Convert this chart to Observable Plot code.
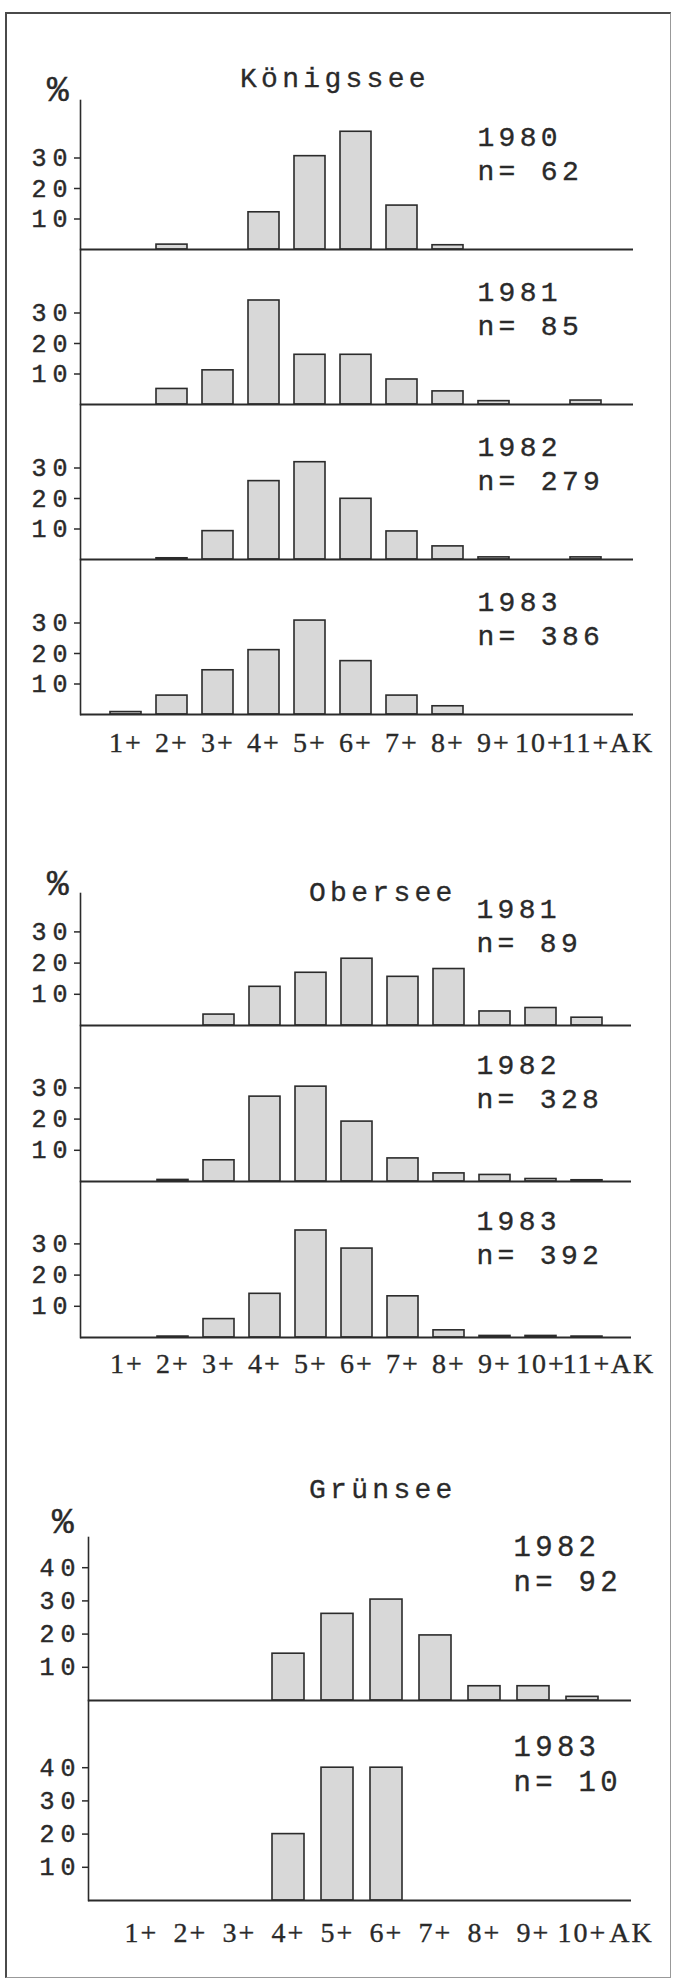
<!DOCTYPE html>
<html>
<head>
<meta charset="utf-8">
<script src="https://cdn.jsdelivr.net/npm/d3@7"></script>
<script src="https://cdn.jsdelivr.net/npm/@observablehq/plot@0.6"></script>
<style>
  body { margin: 0; background: #fff; }
  #page { position: relative; width: 676px; height: 1981px; background: #fff; overflow: hidden; }
  .frame { position: absolute; left: 5px; top: 12px; width: 666px; height: 1966px; box-sizing: border-box;
           border-left: 2px solid #4a4a4a; border-top: 2px solid #4a4a4a; border-right: 1px solid #999; border-bottom: 1px solid #999; }
  .title { position: absolute; font-family: "Liberation Mono", monospace; font-size: 28px; letter-spacing: 4.3px;
           color: #2a2a2a; white-space: pre; line-height: 1; -webkit-text-stroke: 0.3px #2a2a2a; }
  .pct { position: absolute; font-family: "Liberation Mono", monospace; font-size: 36px; color: #2a2a2a; line-height: 1;
         -webkit-text-stroke: 0.4px #2a2a2a; }
  .panel { position: absolute; left: 0; }
  .panel svg { overflow: visible; background: transparent; }
  g[aria-label="y-axis tick label"] text { letter-spacing: 6px; stroke: #2a2a2a; stroke-width: 0.45px; }
  g[aria-label="x-axis tick label"] text { letter-spacing: 2px; stroke: #2a2a2a; stroke-width: 0.35px; }
  g[aria-label="text"] text { letter-spacing: 4.3px; stroke: #2a2a2a; stroke-width: 0.35px; }
</style>
</head>
<body>
<div id="page"><div class="frame"></div></div>
<script>
// ---------- data ----------
const agesLong = ["1+", "2+", "3+", "4+", "5+", "6+", "7+", "8+", "9+", "10+", "11+", "AK"];
const agesShort = ["1+", "2+", "3+", "4+", "5+", "6+", "7+", "8+", "9+", "10+", "AK"];

const koenigsseeYears = [1980, 1981, 1982, 1983];
const koenigsseeN = [62, 85, 279, 386];
const koenigssee1980 = [0, 1.6, 0, 12.2, 30.6, 38.6, 14.4, 1.4, 0, 0, 0, 0];
const koenigssee1981 = [0, 5.1, 11.2, 34.1, 16.3, 16.3, 8.2, 4.3, 1.1, 0, 1.3, 0];
const koenigssee1982 = [0, 0.4, 9.3, 25.7, 31.9, 19.9, 9.2, 4.3, 0.7, 0, 0.7, 0];
const koenigssee1983 = [0.8, 6.2, 14.5, 21.1, 30.8, 17.5, 6.2, 2.7, 0, 0, 0, 0];

const oberseeYears = [1981, 1982, 1983];
const oberseeN = [89, 328, 392];
const obersee1981 = [0, 0, 3.5, 12.4, 16.9, 21.4, 15.6, 18.1, 4.5, 5.6, 2.5, 0];
const obersee1982 = [0, 0.5, 6.8, 27.2, 30.4, 19.2, 7.4, 2.6, 2.1, 0.8, 0.4, 0];
const obersee1983 = [0, 0.3, 5.9, 14.0, 34.3, 28.5, 13.2, 2.3, 0.5, 0.5, 0.3, 0];

const gruenseeYears = [1982, 1983];
const gruenseeN = [92, 10];
const gruensee1982 = [0, 0, 0, 14.1, 26.1, 30.4, 19.6, 4.3, 4.3, 1.1, 0];
const gruensee1983 = [0, 0, 0, 20, 40, 40, 0, 0, 0, 0, 0];

// ---------- layout ----------
const page = document.getElementById("page");
const INK = "#2b2b2b";
const TXT = "#2a2a2a";

function addText(cls, txt, left, top) {
  const d = document.createElement("div");
  d.className = cls; d.textContent = txt;
  d.style.left = left + "px"; d.style.top = top + "px";
  page.appendChild(d);
}

function panel(cfg) {
  const {ages, values, year, n, baseline, h, ppp, axisLeft, lineEnd, xRange, padIn, ticks, bottom, labelPad,
         yearDx, yearDy, yearSize, yearLH} = cfg;
  const data = ages.map((a, i) => ({age: a, v: values[i]})).filter(d => d.v > 0);
  const mb = bottom ? 56 : 2;
  const marks = [
    Plot.barY(data, {x: "age", y: "v", fill: "#d8d8d8", stroke: INK, strokeWidth: 1.6}),
    Plot.ruleY([0], {stroke: INK, strokeWidth: 2}),
    Plot.frame({anchor: "left", stroke: INK, strokeWidth: 1.6}),
    Plot.axisY({ticks, tickSize: 6, tickPadding: 1, label: null, stroke: INK, strokeWidth: 1.5,
                fontSize: 25, fontFamily: "Liberation Mono", fill: TXT}),
    Plot.text([{year, n}], {frameAnchor: "bottom-left", text: d => `${d.year}\nn= ${d.n}`,
               dx: yearDx, dy: yearDy, lineAnchor: "bottom", lineHeight: yearLH, textAnchor: "start",
               fontSize: yearSize, fontFamily: "Liberation Mono", fill: TXT})
  ];
  if (bottom) marks.push(Plot.axisX({tickSize: 0, tickPadding: labelPad, label: null,
                                      fontSize: 28, fontFamily: "Liberation Serif", fill: TXT}));
  const svg = Plot.plot({
    width: 676, height: h + mb,
    marginTop: 0, marginBottom: mb, marginLeft: axisLeft, marginRight: 676 - lineEnd,
    style: {background: "transparent", overflow: "visible", color: TXT},
    x: {domain: ages, range: xRange, paddingInner: padIn, paddingOuter: padIn / 2, align: 0.5, axis: bottom ? undefined : null},
    y: {domain: [0, h / ppp], axis: null},
    marks
  });
  const wrap = document.createElement("div");
  wrap.className = "panel";
  wrap.style.top = (baseline - h) + "px";
  wrap.appendChild(svg);
  page.appendChild(wrap);
}

function lake(spec) {
  addText("title", spec.name, spec.titleX, spec.titleTop);
  addText("pct", "%", spec.pctX, spec.pctTop);
  spec.years.forEach((year, i) => {
    panel({
      ages: spec.ages, values: spec.series[i], year, n: spec.n[i],
      baseline: spec.baselines[i], h: spec.heights[i], ppp: spec.ppp,
      axisLeft: spec.axisLeft, lineEnd: spec.lineEnd, xRange: spec.xRange, padIn: spec.padIn,
      ticks: spec.ticks, bottom: i === spec.years.length - 1, labelPad: spec.labelPad,
      yearDx: spec.yearX - spec.axisLeft, yearDy: spec.yearDy, yearSize: spec.yearSize, yearLH: spec.yearLH
    });
  });
}

lake({
  name: "Königssee", titleX: 240, titleTop: 66, pctX: 47, pctTop: 74,
  ages: agesLong, years: koenigsseeYears, n: koenigsseeN,
  series: [koenigssee1980, koenigssee1981, koenigssee1982, koenigssee1983],
  baselines: [249, 403.5, 558.5, 713.5], heights: [149, 155, 155, 155], ppp: 3.05,
  axisLeft: 80, lineEnd: 633, xRange: [102, 655], padIn: 0.33, ticks: [10, 20, 30], labelPad: 18,
  yearX: 477, yearDy: -70, yearSize: 28, yearLH: 1.18
});

lake({
  name: "Obersee", titleX: 309, titleTop: 880, pctX: 47, pctTop: 868,
  ages: agesLong, years: oberseeYears, n: oberseeN,
  series: [obersee1981, obersee1982, obersee1983],
  baselines: [1025, 1181, 1337], heights: [132, 156, 156], ppp: 3.12,
  axisLeft: 80, lineEnd: 631, xRange: [103, 656], padIn: 0.33, ticks: [10, 20, 30], labelPad: 16,
  yearX: 476, yearDy: -74, yearSize: 28, yearLH: 1.2
});

lake({
  name: "Grünsee", titleX: 309, titleTop: 1477, pctX: 52, pctTop: 1506,
  ages: agesShort, years: gruenseeYears, n: gruenseeN,
  series: [gruensee1982, gruensee1983],
  baselines: [1700, 1900], heights: [163, 200], ppp: 3.32,
  axisLeft: 88, lineEnd: 631, xRange: [115, 656], padIn: 0.35, ticks: [10, 20, 30, 40], labelPad: 22,
  yearX: 513, yearDy: -110, yearSize: 29, yearLH: 1.2
});
</script>
</body>
</html>
